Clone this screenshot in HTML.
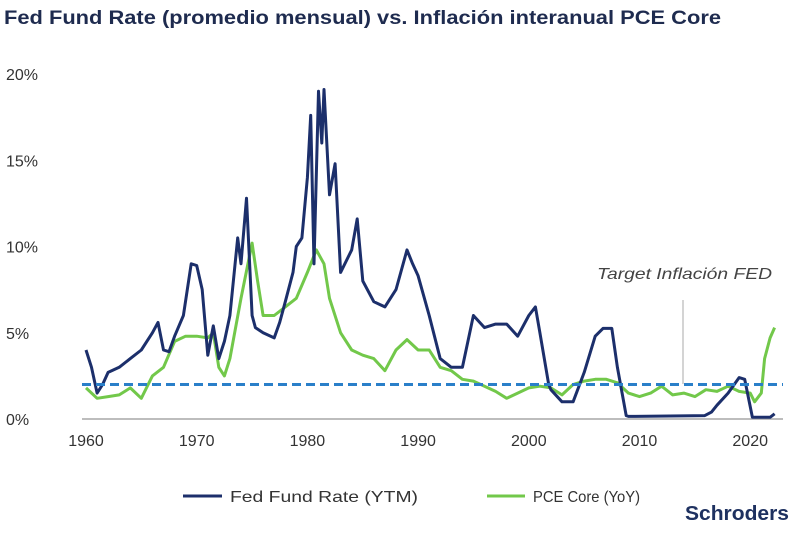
<!DOCTYPE html>
<html><head><meta charset="utf-8"><style>
body{margin:0;background:#fff;width:800px;height:535px;overflow:hidden;font-family:"Liberation Sans",sans-serif}
</style></head><body>
<svg width="800" height="535">
<text x="4" y="24" font-size="19" font-weight="bold" fill="#1e2b4f" textLength="717" lengthAdjust="spacingAndGlyphs">Fed Fund Rate (promedio mensual) vs. Inflación interanual PCE Core</text>
<g id="yt"></g>
<g id="xt"></g>
<line x1="82" x2="783" y1="419" y2="419" stroke="#bdbdbd" stroke-width="2"/>
<g id="plot"></g>
<text x="597" y="279" font-size="16" font-style="italic" fill="#444" textLength="175" lengthAdjust="spacingAndGlyphs">Target Inflación FED</text>
<line x1="683" x2="683" y1="300" y2="384" stroke="#aaa" stroke-width="1"/>
<line x1="183" x2="222" y1="496" y2="496" stroke="#1c2f6b" stroke-width="3"/>
<text x="230" y="502" font-size="16" fill="#333" textLength="188" lengthAdjust="spacingAndGlyphs">Fed Fund Rate (YTM)</text>
<line x1="487" x2="525" y1="496" y2="496" stroke="#72c84a" stroke-width="3"/>
<text x="533" y="502" font-size="16" fill="#333" textLength="107" lengthAdjust="spacingAndGlyphs">PCE Core (YoY)</text>
<text x="685" y="520" font-size="20" font-weight="bold" fill="#1e3160" textLength="104" lengthAdjust="spacingAndGlyphs">Schroders</text>
</svg>
<script>
const yTicks=[0,5,10,15,20];
const xTicks=[1960,1970,1980,1990,2000,2010,2020];
const target=2;
const fedYears=[1960,1960.5,1961,1961.5,1962,1963,1964,1965,1966,1966.5,1967,1967.5,1968,1968.8,1969.5,1970,1970.5,1971,1971.5,1972,1972.5,1973,1973.7,1974,1974.5,1975,1975.3,1976,1977,1977.5,1978,1978.7,1979,1979.5,1980,1980.3,1980.6,1981,1981.3,1981.5,1982,1982.5,1983,1984,1984.5,1985,1986,1987,1988,1989,1989.5,1990,1991,1992,1993,1994,1994.5,1995,1996,1997,1998,1999,2000,2000.6,2001,2001.8,2002,2003,2004,2005,2006,2006.7,2007.5,2008,2008.8,2009,2015.9,2016.5,2017,2018,2019,2019.5,2020.2,2021.8,2022.2];
const fedValues=[4.0,3.0,1.5,2.0,2.7,3.0,3.5,4.0,5.0,5.6,4.0,3.9,4.8,6.0,9.0,8.9,7.5,3.7,5.4,3.5,4.5,6.0,10.5,9.0,12.8,6.0,5.3,5.0,4.7,5.6,6.8,8.5,10.0,10.5,14.0,17.6,9.0,19.0,16.0,19.1,13.0,14.8,8.5,9.8,11.6,8.0,6.8,6.5,7.5,9.8,9.0,8.3,6.0,3.5,3.0,3.0,4.5,6.0,5.3,5.5,5.5,4.8,6.0,6.5,5.0,2.0,1.7,1.0,1.0,2.7,4.8,5.25,5.25,3.0,0.2,0.15,0.2,0.4,0.8,1.5,2.4,2.3,0.1,0.1,0.3];
const pceYears=[1960,1961,1962,1963,1964,1965,1966,1967,1968,1969,1970,1971,1971.5,1972,1972.5,1973,1974,1975,1975.5,1976,1977,1978,1979,1980,1980.8,1981.5,1982,1983,1984,1985,1986,1987,1988,1989,1990,1991,1992,1993,1994,1995,1996,1997,1998,1999,2000,2001,2002,2003,2004,2005,2006,2007,2008,2009,2010,2011,2012,2013,2014,2015,2016,2017,2018,2019,2020,2020.4,2021,2021.3,2021.8,2022.2];
const pceValues=[1.8,1.2,1.3,1.4,1.8,1.2,2.5,3.0,4.5,4.8,4.8,4.7,5.0,3.0,2.5,3.5,7.0,10.2,8.0,6.0,6.0,6.5,7.0,8.5,9.8,9.0,7.0,5.0,4.0,3.7,3.5,2.8,4.0,4.6,4.0,4.0,3.0,2.8,2.3,2.2,1.9,1.6,1.2,1.5,1.8,1.9,1.8,1.4,2.0,2.2,2.3,2.3,2.1,1.5,1.3,1.5,1.9,1.4,1.5,1.3,1.7,1.6,1.9,1.6,1.5,1.0,1.5,3.5,4.7,5.3];
const X=yr=>86+11.07*(yr-1960);
const Y=v=>419-17.25*v;
const NS="http://www.w3.org/2000/svg";
const yt=document.getElementById('yt'),xt=document.getElementById('xt'),plot=document.getElementById('plot');
yTicks.forEach(v=>{const t=document.createElementNS(NS,'text');


t.setAttribute('x',6);t.setAttribute('y',Y(v)+6);t.setAttribute('font-size','16');t.setAttribute('fill','#333');t.textContent=v+'%';yt.appendChild(t);});
xTicks.forEach(v=>{const t=document.createElementNS(NS,'text');


t.setAttribute('x',X(v));t.setAttribute('y',446);t.setAttribute('font-size','16');t.setAttribute('fill','#333');t.setAttribute('text-anchor','middle');t.textContent=v;xt.appendChild(t);});
function line(xs,vs,color,name){const p=document.createElementNS(NS,'polyline');


p.setAttribute('points',xs.map((x,i)=>X(x).toFixed(1)+','+Y(vs[i]).toFixed(1)).join(' '));
p.setAttribute('fill','none');p.setAttribute('stroke',color);p.setAttribute('stroke-width','3');p.setAttribute('stroke-linejoin','round');plot.appendChild(p);}
line(pceYears,pceValues,'#72c84a','pce-core-line');
line(fedYears,fedValues,'#1c2f6b','fed-fund-line');
const d=document.createElementNS(NS,'line');


d.setAttribute('x1',82);d.setAttribute('x2',783);d.setAttribute('y1',Y(target));d.setAttribute('y2',Y(target));
d.setAttribute('stroke','#2a7fc9');d.setAttribute('stroke-width','3');d.setAttribute('stroke-dasharray','9 5');plot.appendChild(d);
</script>
</body></html>
